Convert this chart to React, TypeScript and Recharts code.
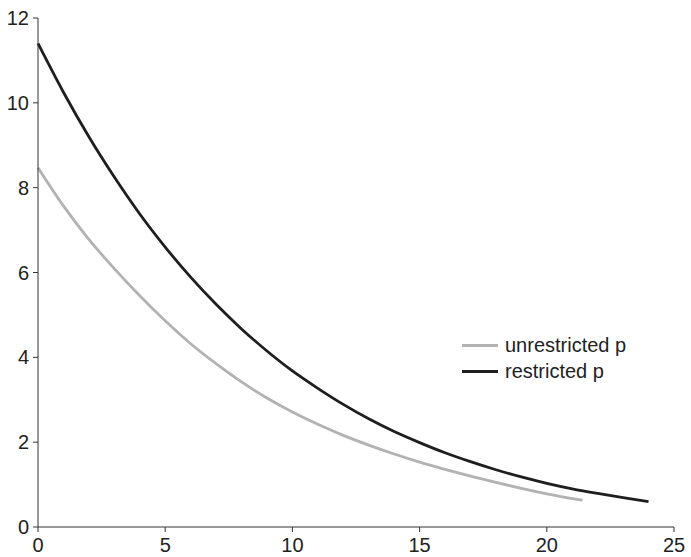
import React from 'react';
import { LineChart, Line, XAxis, YAxis, Legend } from 'recharts';

const unrestrictedX = [0, 1, 2, 3, 4, 5, 6, 7, 8, 9, 10, 11, 12, 13, 14, 15, 16, 17, 18, 19, 20, 21, 21.4];
const unrestrictedY = [8.47, 7.57, 6.78, 6.09, 5.45, 4.86, 4.32, 3.85, 3.42, 3.04, 2.71, 2.42, 2.16, 1.93, 1.72, 1.53, 1.36, 1.2, 1.05, 0.91, 0.78, 0.67, 0.63];

const restrictedX = [0, 1, 2, 3, 4, 5, 6, 7, 8, 9, 10, 11, 12, 13, 14, 15, 16, 17, 18, 19, 20, 21, 22, 23, 24];
const restrictedY = [11.4, 10.25, 9.2, 8.25, 7.38, 6.6, 5.89, 5.25, 4.67, 4.15, 3.68, 3.27, 2.89, 2.55, 2.25, 1.99, 1.75, 1.54, 1.35, 1.18, 1.03, 0.9, 0.79, 0.69, 0.6];

const xTicks = [0, 5, 10, 15, 20, 25];
const yTicks = [0, 2, 4, 6, 8, 10, 12];

const seriesNames = ['unrestricted p', 'restricted p'];
const seriesColors = ['#b2b2b2', '#1e1e1e'];

const unrestrictedData = unrestrictedX.map((x, i) => ({ x, y: unrestrictedY[i] }));
const restrictedData = restrictedX.map((x, i) => ({ x, y: restrictedY[i] }));

const FONT = '"Liberation Sans", Arial, sans-serif';

const LegendContent = () => (
  <div style={{ fontFamily: FONT, fontSize: 20, color: '#222' }}>
    {seriesNames.map((name, i) => (
      <div key={name} style={{ display: 'flex', alignItems: 'center', height: 26 }}>
        <div style={{ width: 36, height: 3, background: seriesColors[i], marginRight: 7 }} />
        <span>{name}</span>
      </div>
    ))}
  </div>
);

export default function App() {
  return (
    <div style={{ position: 'absolute', left: 0, top: 0, background: '#fff' }}>
      <LineChart
        width={691}
        height={557}
        margin={{ top: 18, right: 17, bottom: 0, left: 0 }}
      >
        <XAxis
          type="number"
          dataKey="x"
          domain={[0, 25]}
          ticks={xTicks}
          allowDuplicatedCategory={false}
          height={30}
          tickSize={5}
          tickMargin={6}
          stroke="#333"
          tick={{ fill: '#222', fontSize: 20, fontFamily: FONT }}
        />
        <YAxis
          type="number"
          domain={[0, 12]}
          ticks={yTicks}
          width={38}
          tickSize={5}
          tickMargin={4}
          stroke="#333"
          tick={{ fill: '#222', fontSize: 20, fontFamily: FONT }}
        />
        <Legend
          layout="horizontal"
          verticalAlign="middle"
          align="center"
          content={<LegendContent />}
          wrapperStyle={{ position: 'absolute', left: 462, top: 332, width: 220 }}
        />
        <Line
          data={unrestrictedData}
          dataKey="y"
          name={seriesNames[0]}
          type="monotone"
          stroke={seriesColors[0]}
          strokeWidth={2.8}
          dot={false}
          isAnimationActive={false}
        />
        <Line
          data={restrictedData}
          dataKey="y"
          name={seriesNames[1]}
          type="monotone"
          stroke={seriesColors[1]}
          strokeWidth={2.8}
          dot={false}
          isAnimationActive={false}
        />
      </LineChart>
    </div>
  );
}
